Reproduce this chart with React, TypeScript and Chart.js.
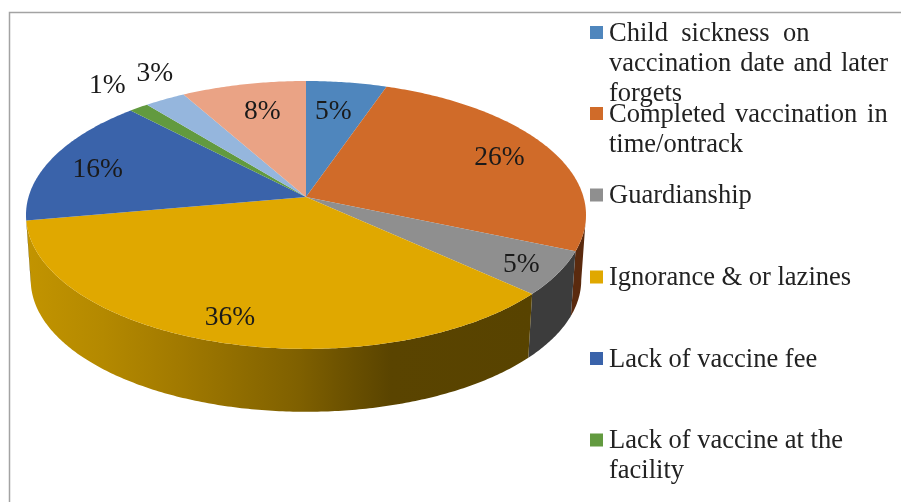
import React, { useEffect, useRef } from "react";
import { Chart, registerables } from "chart.js";

Chart.register(...registerables);

// Data
const categories = [
  "Child sickness on vaccination date and later forgets",
  "Completed vaccination in time/ontrack",
  "Guardianship",
  "Ignorance & or lazines",
  "Lack of vaccine fee",
  "Lack of vaccine at the facility",
  "",
  "",
];
const values = [5.3, 26.1, 5.3, 35.5, 15.6, 1.3, 2.7, 8.2];

// Legend wording, broken as in the picture
const legendLines = [
  ["Child sickness on", "vaccination date and later", "forgets"],
  ["Completed vaccination in", "time/ontrack"],
  ["Guardianship"],
  ["Ignorance & or lazines"],
  ["Lack of vaccine fee"],
  ["Lack of vaccine at the", "facility"],
];
const legendWordSpacing = [
  [6.7, 2.5, 0],
  [3.2, 0],
  [0],
  [0],
  [0],
  [0, 0],
];
const legendCentres = [32.5, 113.5, 195, 277, 358.5, 440];

// Styles
const topColors = ["#4f86bd", "#d06b29", "#8f8f8f", "#e0a800", "#3a63aa", "#629a3f", "#95b6dd", "#eaa385"];
const wallColors = ["#2f5070", "#5a2a0e", "#3c3c3c", "#5a4400", "#233b66", "#3a5c25", "#5a6d85", "#8c6150"];
const yellowWallStops: [number, string][] = [
  [0, "#c29400"],
  [0.15, "#b48900"],
  [0.3, "#a27a00"],
  [0.42, "#906d00"],
  [0.54, "#7f6000"],
  [0.62, "#6e5300"],
  [0.72, "#5a4400"],
  [1, "#584300"],
];
const labelRadii = [0.75, 0.8, 0.86, 0.83, 0.82, 1.25, 1.25, 0.74];
const labelShiftX = [-4, -1, 1, -5, 1, 6, 21, 4];
const labelShiftY = [3, 2, 3, 3, 5, -2, -4, 1];

const PERSPECTIVE = 0.134;
const WALL_DEPTH = 65.5;
const WALL_SHRINK = 0.983;
const FONT = '"Liberation Serif", "Times New Roman", serif';

type Pt = { x: number; y: number };

const pieTransform = {
  id: "perspectivePie",
  beforeDatasetDraw(chart: any, args: any) {
    const { ctx, chartArea } = chart;
    const meta = chart.getDatasetMeta(args.index);
    const first = meta.data[0];
    const cx = first.x;
    const cy = first.y;
    const R = first.outerRadius;
    const a = (chartArea.width / 2) * Math.sqrt(1 - PERSPECTIVE * PERSPECTIVE);
    const h = R * (1 + PERSPECTIVE);

    const project = (theta: number, r: number, lower = false): Pt => {
      const X = Math.sin(theta) * r;
      const Z = Math.cos(theta) * r;
      const w = 1 + PERSPECTIVE * Z;
      const s = lower ? WALL_SHRINK : 1;
      return { x: cx + (a * s * X) / w, y: cy + (lower ? WALL_DEPTH : 0) - (h * s * Z) / w };
    };
    const sample = (t0: number, t1: number) => {
      const n = Math.max(2, Math.ceil(Math.abs(t1 - t0) * 90));
      const out: number[] = [];
      for (let i = 0; i <= n; i++) out.push(t0 + ((t1 - t0) * i) / n);
      return out;
    };

    const rightLimit = Math.acos(-PERSPECTIVE);
    const leftLimit = 2 * Math.PI - rightLimit;

    // side walls
    meta.data.forEach((el: any, i: number) => {
      const t0 = Math.max(el.startAngle + Math.PI / 2, rightLimit);
      const t1 = Math.min(el.endAngle + Math.PI / 2, leftLimit);
      if (t1 <= t0) return;
      ctx.beginPath();
      sample(t0, t1).forEach((t, k) => {
        const p = project(t, 1);
        if (k === 0) ctx.moveTo(p.x, p.y);
        else ctx.lineTo(p.x, p.y);
      });
      sample(t1, t0).forEach((t) => {
        const p = project(t, 1, true);
        ctx.lineTo(p.x, p.y);
      });
      ctx.closePath();
      if (i === 3) {
        const g = ctx.createLinearGradient(project(t1, 1).x, 0, project(t0, 1).x, 0);
        yellowWallStops.forEach(([o, c]) => g.addColorStop(o, c));
        ctx.fillStyle = g;
      } else {
        ctx.fillStyle = wallColors[i];
      }
      ctx.fill();
    });

    // top face
    meta.data.forEach((el: any, i: number) => {
      const t0 = el.startAngle + Math.PI / 2;
      const t1 = el.endAngle + Math.PI / 2;
      ctx.beginPath();
      ctx.moveTo(cx, cy);
      sample(t0, t1).forEach((t) => {
        const p = project(t, 1);
        ctx.lineTo(p.x, p.y);
      });
      ctx.closePath();
      ctx.fillStyle = topColors[i];
      ctx.fill();
    });

    // percentage labels
    ctx.save();
    ctx.font = `27.5px ${FONT}`;
    ctx.fillStyle = "#1a1a1a";
    ctx.textAlign = "center";
    ctx.textBaseline = "middle";
    meta.data.forEach((el: any, i: number) => {
      const mid = (el.startAngle + el.endAngle) / 2 + Math.PI / 2;
      const p = project(mid, labelRadii[i]);
      ctx.fillText(`${Math.round(values[i])}%`, p.x + labelShiftX[i], p.y + labelShiftY[i]);
    });
    ctx.restore();
    return false;
  },
  beforeDraw(chart: any) {
    const { ctx, width, height } = chart;
    ctx.save();
    ctx.fillStyle = "#ffffff";
    ctx.fillRect(0, 0, width, height);
    ctx.strokeStyle = "#a3a3a3";
    ctx.lineWidth = 1.5;
    ctx.beginPath();
    ctx.moveTo(9.5, height);
    ctx.lineTo(9.5, 12.5);
    ctx.lineTo(width, 12.5);
    ctx.stroke();
    ctx.restore();
  },
  afterDraw(chart: any) {
    const { ctx } = chart;
    ctx.save();
    ctx.font = `26.5px ${FONT}`;
    ctx.textAlign = "left";
    ctx.textBaseline = "alphabetic";
    legendLines.forEach((lines, i) => {
      const c = legendCentres[i];
      ctx.fillStyle = topColors[i];
      ctx.fillRect(590, c - 6.5, 13, 13);
      ctx.fillStyle = "#222222";
      lines.forEach((line, k) => {
        (ctx as any).wordSpacing = `${legendWordSpacing[i][k]}px`;
        ctx.fillText(line, 609, c + 8 + k * 30);
      });
    });
    ctx.restore();
  },
};

export default function App() {
  const ref = useRef<HTMLCanvasElement>(null);
  useEffect(() => {
    const chart = new Chart(ref.current as HTMLCanvasElement, {
      type: "pie",
      data: {
        labels: categories,
        datasets: [{ data: values, backgroundColor: topColors, borderWidth: 0 }],
      },
      options: {
        animation: false,
        responsive: false,
        layout: { padding: { left: 26, right: 315, top: 81, bottom: 189 } },
        plugins: { legend: { display: false }, tooltip: { enabled: false } },
      },
      plugins: [pieTransform],
    });
    return () => chart.destroy();
  }, []);
  return (
    <canvas
      ref={ref}
      width={901}
      height={502}
      style={{ position: "fixed", left: 0, top: 0, width: 901, height: 502, display: "block", filter: "blur(0.45px)" }}
    />
  );
}
